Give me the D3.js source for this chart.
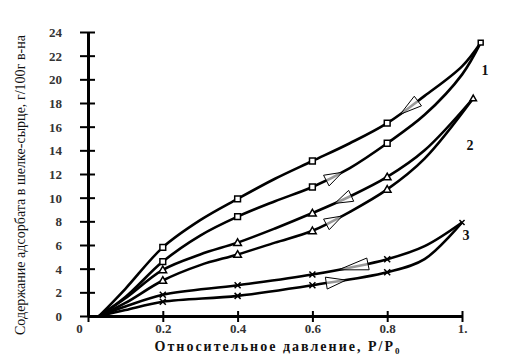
<!DOCTYPE html>
<html><head><meta charset="utf-8">
<script src="https://cdn.jsdelivr.net/npm/d3@7"></script>
<style>body{margin:0;background:#fff}svg{display:block}</style>
</head><body>
<svg id="c" width="510" height="359"></svg>
<script>
// ---- data ----
const xTicks = [0, 0.2, 0.4, 0.6, 0.8, 1];
const xTickLabels = ["0", "0.2", "0.4", "0.6", "0.8", "1."];
const yTicks = [0, 2, 4, 6, 8, 10, 12, 14, 16, 18, 20, 22, 24];

const markerX = [0.2, 0.4, 0.6, 0.8];

const s1X   = [0.03, 0.1, 0.2, 0.3, 0.4, 0.5, 0.6, 0.7, 0.8, 0.9, 1.0, 1.05];
const s1Des = [0, 2.3, 5.8, 8.1, 9.9, 11.6, 13.1, 14.6, 16.3, 18.6, 21.1, 23.1];
const s1Ads = [0, 1.6, 4.6, 6.8, 8.4, 9.7, 10.9, 12.5, 14.6, 17.0, 20.4, 23.1];

const s2X   = [0.03, 0.1, 0.2, 0.3, 0.4, 0.5, 0.6, 0.7, 0.8, 0.9, 1.03];
const s2Des = [0, 1.5, 3.9, 5.2, 6.2, 7.4, 8.7, 10.1, 11.75, 14.0, 18.4];
const s2Ads = [0, 1.1, 3.0, 4.3, 5.2, 6.2, 7.2, 8.8, 10.7, 13.3, 18.4];

const s3X   = [0.03, 0.1, 0.2, 0.4, 0.6, 0.8, 0.9, 1.0];
const s3Des = [0, 0.8, 1.8, 2.6, 3.5, 4.8, 5.9, 7.9];
const s3Ads = [0, 0.5, 1.2, 1.7, 2.6, 3.7, 4.8, 7.9];

const seriesNames = ["1", "2", "3"];
const seriesMarkers = ["square", "triangle", "cross"];
// arrow tip positions (x) per series: [desorption, adsorption]
const arrowTipX = [[0.835, 0.68], [0.66, 0.68], [0.67, 0.69]];
const arrowLen = [[22, 18], [18, 18], [30, 20]];

// ---- layout ----
const svg = d3.select("#c");
const x = d3.scaleLinear().domain([0, 1]).range([88, 462]);
const y = d3.scaleLinear().domain([0, 24]).range([316, 32]);
const serif = "Liberation Serif, Times New Roman, serif";

// axes
const yAxis = svg.append("g").attr("transform", "translate(88,0)")
  .call(d3.axisLeft(y).tickValues(yTicks).tickSize(8).tickSizeOuter(0).tickFormat(d3.format("d")));
yAxis.select(".domain").attr("stroke", "#000").attr("stroke-width", 3);
yAxis.selectAll(".tick line").attr("x1", 7).attr("x2", -8).attr("stroke", "#000").attr("stroke-width", 2);
yAxis.selectAll(".tick text").attr("x", -26).attr("dy", "0.35em")
  .style("font-family", serif).attr("font-weight", "bold").attr("font-size", 13).attr("fill", "#333");

const xAxis = svg.append("g").attr("transform", "translate(0,316)")
  .call(d3.axisBottom(x).tickValues(xTicks).tickSize(5).tickSizeOuter(0)
    .tickFormat((d, i) => xTickLabels[i]));
xAxis.select(".domain").attr("stroke", "#000").attr("stroke-width", 3);
xAxis.selectAll(".tick line").attr("y1", -5).attr("y2", 6).attr("stroke", "#000").attr("stroke-width", 2);
xAxis.selectAll(".tick text").attr("y", 8).attr("dy", "0.71em")
  .attr("dx", (d) => d === 0 ? -9 : 0)
  .style("font-family", serif).attr("font-weight", "bold").attr("font-size", 13).attr("fill", "#333");

// titles
svg.append("text").attr("x", 277).attr("y", 351).attr("text-anchor", "middle")
  .style("font-family", serif).attr("font-weight", "bold").attr("font-size", 14)
  .attr("textLength", 245).attr("fill", "#111")
  .text("Относительное давление, P/P").append("tspan").attr("font-size", 9).attr("dy", 3).text("0");
svg.append("text").attr("transform", "translate(25,185) rotate(-90)").attr("text-anchor", "middle")
  .style("font-family", serif).attr("font-size", 14).attr("fill", "#111")
  .attr("textLength", 300)
  .text("Содержание адсорбата в шелке-сырце, г/100г в-на");

// curves
const line = d3.line().x(d => x(d[0])).y(d => y(d[1])).curve(d3.curveCatmullRom.alpha(0.5));
const seriesData = [
  { xs: s1X, des: s1Des, ads: s1Ads },
  { xs: s2X, des: s2Des, ads: s2Ads },
  { xs: s3X, des: s3Des, ads: s3Ads }
];

function markerPath(type, cx, cy, big) {
  const s = big ? 1 : 0.85;
  if (type === "square") { const h = 2.9 * s; return `M${cx-h},${cy-h}h${2*h}v${2*h}h${-2*h}Z`; }
  if (type === "triangle") { const h = 3.8 * s; return `M${cx},${cy-h}L${cx+h},${cy+h*0.75}L${cx-h},${cy+h*0.75}Z`; }
  const h = 3 * s; return `M${cx-h},${cy-h}L${cx+h},${cy+h}M${cx-h},${cy+h}L${cx+h},${cy-h}`;
}

function pointAtX(path, tx) {
  const L = path.getTotalLength();
  let lo = 0, hi = L;
  for (let i = 0; i < 40; i++) {
    const m = (lo + hi) / 2;
    if (path.getPointAtLength(m).x < tx) lo = m; else hi = m;
  }
  return lo;
}

seriesData.forEach((s, si) => {
  const g = svg.append("g");
  ["des", "ads"].forEach((br, bi) => {
    const pts = s.xs.map((v, i) => [v, s[br][i]]);
    const p = g.append("path").attr("d", line(pts)).attr("fill", "none")
      .attr("stroke", "#000").attr("stroke-width", 2.6).attr("stroke-linejoin", "round");
    markerX.forEach(mx => {
      const idx = s.xs.indexOf(mx);
      if (idx < 0) return;
      g.append("path").attr("d", markerPath(seriesMarkers[si], x(mx), y(s[br][idx]), true))
        .attr("fill", seriesMarkers[si] === "cross" ? "none" : "#fff")
        .attr("stroke", "#000").attr("stroke-width", 1.5);
    });
    const node = p.node();
    const dir = br === "ads" ? 1 : -1;
    const len = arrowLen[si][bi];
    const tipL = pointAtX(node, x(arrowTipX[si][bi]));
    const tip = node.getPointAtLength(tipL);
    const base = node.getPointAtLength(tipL - dir * len);
    const dx = tip.x - base.x, dy = tip.y - base.y, n = Math.hypot(dx, dy);
    const nx = -dy / n, ny = dx / n, w = 6;
    g.append("path")
      .attr("d", `M${tip.x},${tip.y}L${base.x + nx*w},${base.y + ny*w}L${base.x - nx*w},${base.y - ny*w}Z`)
      .attr("fill", "#fff").attr("fill-opacity", 0.6).attr("stroke", "#000").attr("stroke-width", 1);
  });
  const last = s.xs.length - 1;
  g.append("path").attr("d", markerPath(seriesMarkers[si], x(s.xs[last]), y(s.des[last]), false))
    .attr("fill", seriesMarkers[si] === "cross" ? "none" : "#fff")
    .attr("stroke", "#000").attr("stroke-width", 1.5);
});

// series labels
const labelPos = [[485, 75], [470, 150], [466, 240]];
seriesNames.forEach((nm, i) => {
  svg.append("text").attr("x", labelPos[i][0]).attr("y", labelPos[i][1])
    .attr("text-anchor", "middle").style("font-family", serif).attr("font-weight", "bold")
    .attr("font-size", 14).attr("fill", "#111").text(nm);
});
</script>
</body></html>
